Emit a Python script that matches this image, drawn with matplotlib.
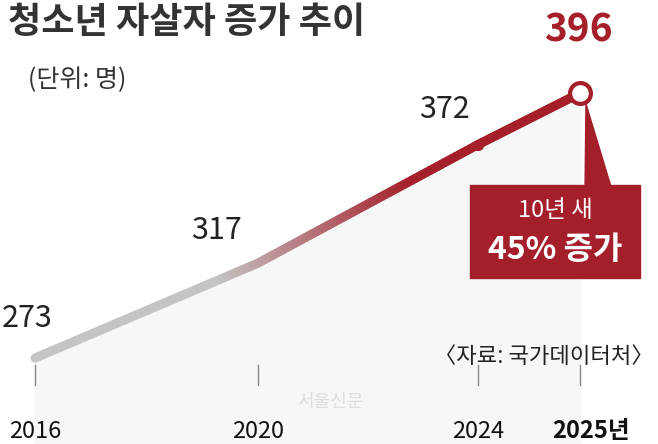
import matplotlib
matplotlib.use("Agg")
import matplotlib.pyplot as plt
import numpy as np
from matplotlib.collections import LineCollection
from matplotlib.colors import to_rgb
from matplotlib.patches import Rectangle, Polygon

plt.rcParams["font.family"] = ["Noto Sans CJK KR", "DejaVu Sans"]

years = ["2016", "2020", "2024", "2025년"]
values = [273, 317, 372, 396]
x_pos = [0, 4.02, 7.99, 9.84]  # drawn positions (chart is not to time scale)

W, H = 658, 444
fig = plt.figure(figsize=(W / 100, H / 100), dpi=100)
ax = fig.add_axes([0, 0, 1, 1])
ax.set_xlim(-0.632, 11.245)
ax.set_ylim(233.1, 439.2)
ax.axis("off")

# faint shading under the line
ax.fill_between(x_pos, values, 233.1, color="#f7f7f7", zorder=0)

# gradient line gray -> red
xs, ys = [], []
for i in range(len(x_pos) - 1):
    t = np.linspace(0, 1, 60, endpoint=False)
    xs.extend(x_pos[i] + t * (x_pos[i + 1] - x_pos[i]))
    ys.extend(values[i] + t * (values[i + 1] - values[i]))
xs.append(x_pos[-1]); ys.append(values[-1])
xs, ys = np.array(xs), np.array(ys)
pts = np.column_stack([xs, ys]).reshape(-1, 1, 2)
segs = np.concatenate([pts[:-1], pts[1:]], axis=1)
gray, red = np.array(to_rgb("#c4c4c4")), np.array(to_rgb("#a51f2b"))
frac = np.clip((xs[:-1] - 3.3) / 3.5, 0, 1)
cols = [gray + f * (red - gray) for f in frac]
ax.add_collection(LineCollection(segs, colors=cols, linewidths=6.5, capstyle="round", zorder=2))

ax.plot(x_pos[2], values[2], "o", color="#a51f2b", ms=7, zorder=3)
ax.plot(x_pos[-1], values[-1], "o", ms=15, mfc="white", mec="#a51f2b", mew=3, zorder=4)

# value labels
lab_off = [(-0.6, 11), (-1.2, 8), (-1.05, 9), (-0.65, 20)]
for x, v, (dx, dy), i in zip(x_pos, values, lab_off, range(4)):
    last = i == 3
    ax.text(x + dx, v + dy, str(v), fontsize=28 if last else 22,
            fontweight="bold" if last else "normal",
            color="#a51f2b" if last else "#222222", ha="left", va="bottom", zorder=5)

# ticks and year labels
for x, y, i in zip(x_pos, years, range(4)):
    ax.plot([x, x], [260.5, 269.7], color="#888888", lw=1)
    ax.text(x + (0.2 if i == 3 else 0), 233.1 + 0.5, y, fontsize=17, ha="center", va="bottom",
            color="#111111", fontweight="bold" if i == 3 else "normal")

# callout box
def px(x, y):
    return (x / W, 1 - y / H)
fig.patches.append(Polygon([px(586, 104), px(585, 190), px(612, 190)], closed=True,
                           color="#a51f2b", transform=fig.transFigure, figure=fig))
fig.patches.append(Rectangle(px(470, 278), 170 / W, 93 / H, color="#a51f2b",
                             transform=fig.transFigure, figure=fig))
fig.text(*px(555, 210), "10년 새", color="white", fontsize=17, ha="center", va="center")
fig.text(*px(555, 250), "45% 증가", color="white", fontsize=23, fontweight="bold",
         ha="center", va="center")

fig.text(*px(8, 22), "청소년 자살자 증가 추이", fontsize=26, fontweight="bold",
         color="#333333", va="center")
fig.text(*px(28, 80), "(단위: 명)", fontsize=18, color="#333333", va="center")
fig.text(*px(654, 356), "〈자료: 국가데이터처〉", fontsize=16, color="#222222",
         ha="right", va="center")
fig.text(*px(330, 402), "서울신문", fontsize=13, color="#dddddd", ha="center", va="center")

fig.savefig("out.png", dpi=100)
